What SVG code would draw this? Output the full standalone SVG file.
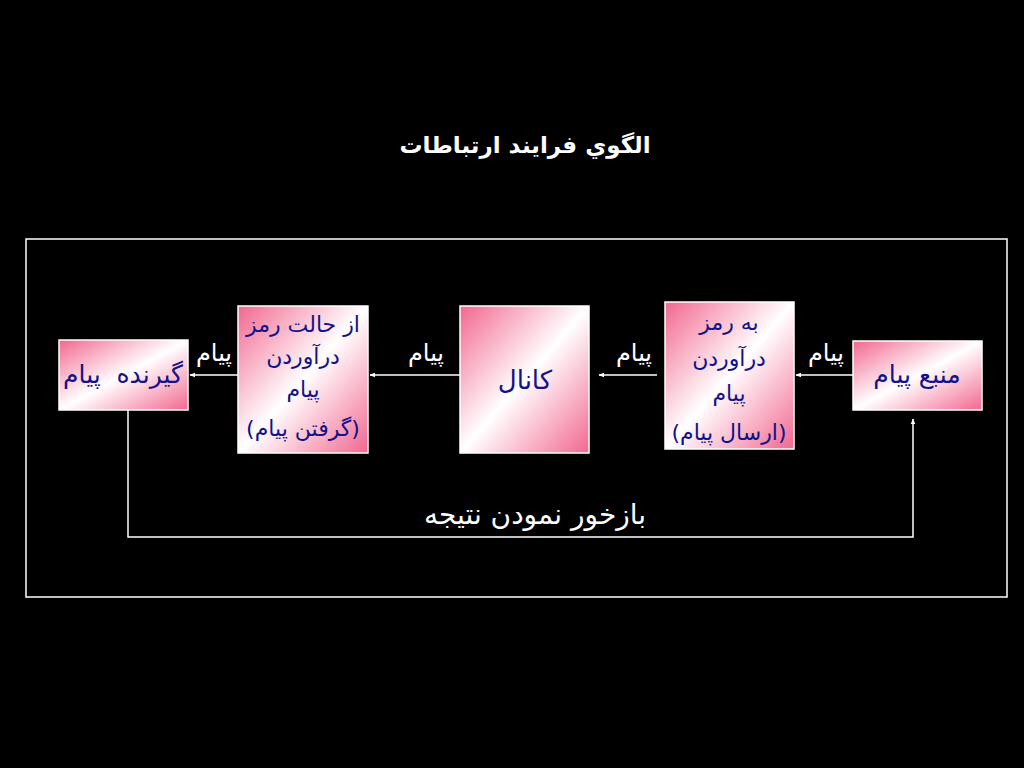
<svg xmlns="http://www.w3.org/2000/svg" width="1024" height="768" viewBox="0 0 1024 768">
<defs>
<linearGradient id="pg" x1="0" y1="0" x2="1" y2="1">
<stop offset="0" stop-color="#f2678f"/>
<stop offset="0.5" stop-color="#ffffff"/>
<stop offset="1" stop-color="#f2678f"/>
</linearGradient>
<marker id="ah" viewBox="0 0 10 10" refX="9" refY="5" markerWidth="6" markerHeight="6" orient="auto" markerUnits="userSpaceOnUse">
<path d="M0,1 L10,5 L0,9 z" fill="#ffffff"/>
</marker>
<style>
.box{fill:url(#pg);stroke:#ffffff;stroke-width:1.5}
.nt{font-family:"DejaVu Sans","Noto Sans",sans-serif;fill:#12128a;text-anchor:middle;direction:rtl}
.lbl{font-family:"DejaVu Sans","Noto Sans",sans-serif;fill:#ffffff;text-anchor:middle;direction:rtl}
.ln{stroke:#ffffff;stroke-width:1.5;fill:none}
</style>
</defs>
<rect width="1024" height="768" fill="#000000"/>
<text class="lbl" x="525" y="153" font-size="23" font-weight="bold">الگوي فرايند ارتباطات</text>
<rect x="26" y="239" width="981" height="358" fill="none" stroke="#ffffff" stroke-width="1.5"/>
<g id="connectors">
<line class="ln" x1="853" y1="375" x2="796" y2="375" marker-end="url(#ah)"/>
<line class="ln" x1="657" y1="375" x2="599" y2="375" marker-end="url(#ah)"/>
<line class="ln" x1="460" y1="375" x2="370" y2="375" marker-end="url(#ah)"/>
<line class="ln" x1="238" y1="375" x2="190" y2="375" marker-end="url(#ah)"/>
<polyline class="ln" points="128,410 128,537 913,537 913,419" marker-end="url(#ah)"/>
<text class="lbl" x="826" y="361" font-size="24">پیام</text>
<text class="lbl" x="634" y="361" font-size="24">پیام</text>
<text class="lbl" x="426" y="361" font-size="24">پیام</text>
<text class="lbl" x="214" y="361" font-size="24">پیام</text>
<text class="lbl" x="535" y="524" font-size="28">بازخور نمودن نتیجه</text>
</g>
<g id="receiver">
<rect class="box" x="59" y="340" width="129" height="70"/>
<text class="nt" x="123" y="383" font-size="25" xml:space="preserve">گیرنده  پیام</text>
</g>
<g id="decoder">
<rect class="box" x="238" y="306" width="130" height="147"/>
<text class="nt" x="303" y="332" font-size="22">از حالت رمز</text>
<text class="nt" x="303" y="364" font-size="22">درآوردن</text>
<text class="nt" x="303" y="397" font-size="22">پیام</text>
<text class="nt" x="303" y="436" font-size="22">(گرفتن پیام)</text>
</g>
<g id="channel">
<rect class="box" x="460" y="306" width="129" height="147"/>
<text class="nt" x="525" y="389" font-size="26">کانال</text>
</g>
<g id="encoder">
<rect class="box" x="665" y="302" width="129" height="147"/>
<text class="nt" x="729" y="330" font-size="22">به رمز</text>
<text class="nt" x="729" y="366" font-size="22">درآوردن</text>
<text class="nt" x="729" y="401" font-size="22">پیام</text>
<text class="nt" x="729" y="440" font-size="22">(ارسال پیام)</text>
</g>
<g id="source">
<rect class="box" x="853" y="341" width="129" height="69"/>
<text class="nt" x="917" y="383" font-size="25">منبع پیام</text>
</g>
</svg>
